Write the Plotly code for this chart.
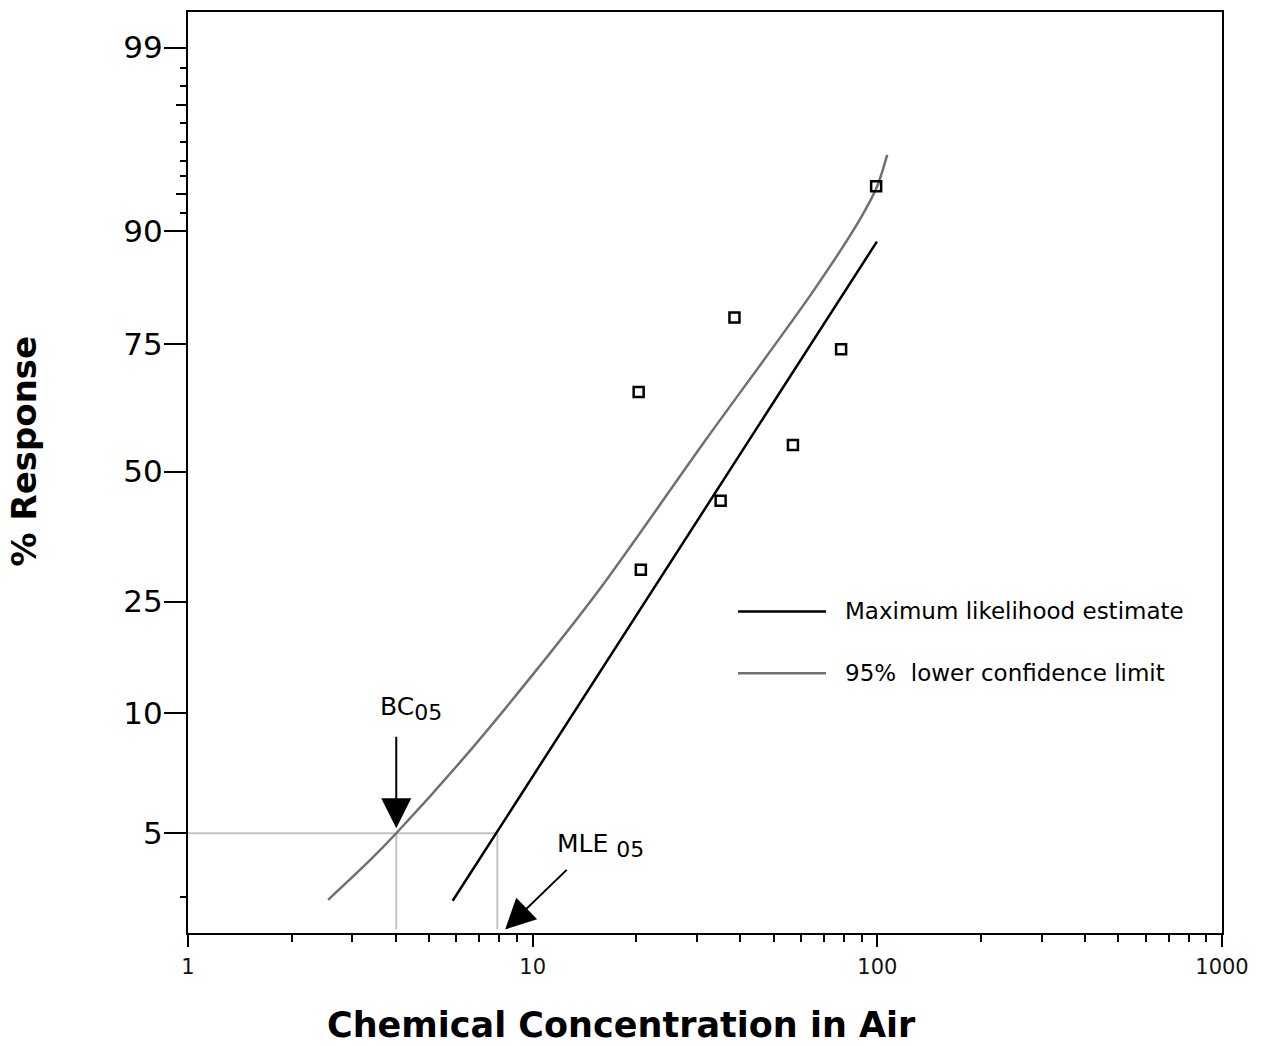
import numpy as np
import plotly.graph_objects as go
from statistics import NormalDist

# ---------------- data ----------------
obs_conc = [20.3, 20.6, 35.1, 38.5, 56.9, 78.5, 99.2]
obs_resp = [66.3, 30.5, 44.0, 79.3, 55.6, 74.1, 93.8]

mle_conc = [5.86, 99.7]
mle_resp = [1.90, 89.0]

lcl_conc = [2.55, 3.38, 4.02, 6.16, 9.70, 15.7, 31.6, 65.1, 89.2, 99.9, 106.8]
lcl_resp = [1.93, 3.48, 5.0, 7.64, 13.5, 27.2, 56.4, 83.1, 91.2, 93.8, 95.7]

bc05 = 4.02
mle05 = 7.9
bench_resp = 5
floor_resp = 1.2

y_tick_pct = [5, 10, 25, 50, 75, 90, 99]
y_tick_text = ["5", "10", "25", "50", "75", "90", "99"]
x_tick_vals = [1, 10, 100, 1000]
x_tick_text = ["1", "10", "100", "1000"]

# ---------------- probability-paper scale as drawn ----------------
scale_pct = [1, 2, 5, 10, 25, 50, 75, 90, 99]
scale_pos = [-7.3, 35.6, 100.0, 220.3, 332.3, 462.6, 590.6, 703.3, 887.6]
_nd = NormalDist()
_scale_z = [_nd.inv_cdf(p / 100) for p in scale_pct]


def to_axis(pct):
    pct = np.atleast_1d(np.asarray(pct, dtype=float))
    z = np.array([_nd.inv_cdf(p / 100) for p in pct])
    return np.interp(z, _scale_z, scale_pos)


minor_short = [867.6, 849.0, 811.6, 793.3, 774.3, 759.3, 721.6] + list(to_axis([2]))
minor_medium = [830.0, 740.6]
Y_TOP = 923.3

FONT = "DejaVu Sans"
GREY_REF = "#c3c3c3"
GREY_LCL = "#707070"

fig = go.Figure()

# reference lines at the 5% benchmark
fig.add_trace(go.Scatter(
    x=[1, mle05, None, bc05, bc05, None, mle05, mle05],
    y=list(to_axis([bench_resp, bench_resp])) + [None]
      + list(to_axis([bench_resp, floor_resp])) + [None]
      + list(to_axis([bench_resp, floor_resp])),
    mode="lines", line=dict(color=GREY_REF, width=2),
    showlegend=False, hoverinfo="skip"))

fig.add_trace(go.Scatter(
    x=lcl_conc, y=to_axis(lcl_resp), mode="lines",
    line=dict(color=GREY_LCL, width=2.5, shape="spline", smoothing=0.8),
    name="95% lower confidence limit", showlegend=False))

fig.add_trace(go.Scatter(
    x=mle_conc, y=to_axis(mle_resp), mode="lines",
    line=dict(color="black", width=2.5),
    name="Maximum likelihood estimate", showlegend=False))

fig.add_trace(go.Scatter(
    x=obs_conc, y=to_axis(obs_resp), mode="markers",
    marker=dict(symbol="square-open", size=10, color="black",
                line=dict(width=2.5, color="black")),
    name="Observed", showlegend=False))

# invisible trace on overlay axis for medium ticks
fig.add_trace(go.Scatter(x=[1], y=[0], yaxis="y2", mode="markers",
                         marker=dict(opacity=0), showlegend=False, hoverinfo="skip"))

fig.update_layout(
    width=1261, height=1046,
    margin=dict(l=188, r=39, t=10, b=113),
    paper_bgcolor="white", plot_bgcolor="white",
    showlegend=False,
    xaxis=dict(
        type="log", range=[0, 3],
        tickmode="array", tickvals=x_tick_vals, ticktext=x_tick_text,
        ticks="outside", ticklen=12, tickwidth=2, tickcolor="black",
        minor=dict(ticks="outside", ticklen=7, tickwidth=2, tickcolor="black",
                   tickmode="array",
                   tickvals=[k * 10 ** d for d in range(3) for k in range(2, 10)]),
        showline=True, linewidth=2, linecolor="black", mirror=True,
        showgrid=False, zeroline=False,
        ticklabelstandoff=2,
        tickfont=dict(family=FONT, size=21, color="#111"),
    ),
    yaxis=dict(
        range=[0, Y_TOP],
        tickmode="array", tickvals=list(to_axis(y_tick_pct)), ticktext=y_tick_text,
        ticks="outside", ticklen=22, tickwidth=2, tickcolor="black",
        minor=dict(ticks="outside", ticklen=6, tickwidth=2, tickcolor="black",
                   tickmode="array", tickvals=minor_short),
        showline=True, linewidth=2, linecolor="black", mirror=True,
        showgrid=False, zeroline=False,
        ticklabelstandoff=-5,
        tickfont=dict(family=FONT, size=31, color="black"),
    ),
    yaxis2=dict(
        range=[0, Y_TOP], overlaying="y", side="left", anchor="x",
        tickmode="array", tickvals=minor_medium, showticklabels=False,
        ticks="outside", ticklen=11, tickwidth=2, tickcolor="black",
        showgrid=False, zeroline=False, showline=False,
    ),
)

annotations = [
    # axis titles
    dict(text="<b>Chemical Concentration in Air</b>", xref="paper", yref="paper",
         x=0.4188, y=-0.0996, xanchor="center", yanchor="middle", showarrow=False,
         font=dict(family=FONT, size=35, color="black")),
    dict(text="<b>% Response</b>", xref="paper", yref="paper",
         x=-0.1585, y=0.523, xanchor="center", yanchor="middle", showarrow=False,
         textangle=-90, font=dict(family=FONT, size=34, color="black")),
    # legend texts
    dict(text="Maximum likelihood estimate", xref="paper", yref="paper",
         x=0.6335, y=0.3491, xanchor="left", yanchor="middle", showarrow=False,
         font=dict(family=FONT, size=23, color="black")),
    dict(text="95%  lower confidence limit", xref="paper", yref="paper",
         x=0.6335, y=0.2819, xanchor="left", yanchor="middle", showarrow=False,
         font=dict(family=FONT, size=23, color="black")),
    # arrows
    dict(x=np.log10(bc05), y=float(to_axis([bench_resp])[0]), xref="x", yref="y",
         ax=0, ay=-98, showarrow=True, arrowhead=2, arrowsize=3, arrowwidth=2,
         arrowcolor="black", standoff=5, text=""),
    dict(x=np.log10(8.32), y=float(to_axis([floor_resp])[0]), xref="x", yref="y",
         ax=63, ay=-61, showarrow=True, arrowhead=2, arrowsize=3, arrowwidth=2,
         arrowcolor="black", standoff=0, text=""),
    # labels
    dict(text="BC<sub><span style='font-size:22px'>05</span></sub>",
         xref="paper", yref="paper", x=0.1838, y=0.244, xanchor="left", yanchor="middle",
         showarrow=False, font=dict(family=FONT, size=25, color="black")),
    dict(text="MLE <sub><span style='font-size:22px'>05</span></sub>",
         xref="paper", yref="paper", x=0.3549, y=0.095, xanchor="left", yanchor="middle",
         showarrow=False, font=dict(family=FONT, size=25, color="black")),
]
fig.update_layout(annotations=annotations)

# legend swatches
fig.add_shape(type="line", xref="paper", yref="paper", x0=0.5319, x1=0.6170,
              y0=0.3491, y1=0.3491, line=dict(color="black", width=2.5))
fig.add_shape(type="line", xref="paper", yref="paper", x0=0.5319, x1=0.6170,
              y0=0.2819, y1=0.2819, line=dict(color=GREY_LCL, width=2.5))

fig.write_html("out.html",
               config={"displayModeBar": False},
               post_script="document.body.style.margin='0px';")
